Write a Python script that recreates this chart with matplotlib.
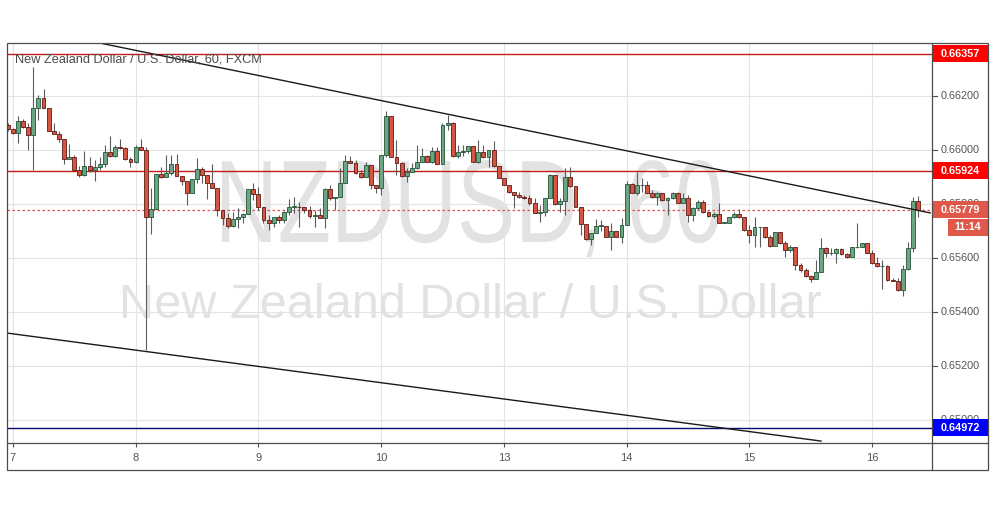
import matplotlib
matplotlib.use("Agg")
import matplotlib.pyplot as plt
from matplotlib.font_manager import FontProperties
from matplotlib.lines import Line2D
from matplotlib.patches import PathPatch, Rectangle
from matplotlib.textpath import TextPath
from matplotlib.transforms import Affine2D
import numpy as np

W, H = 995, 507

# hourly NZDUSD candles, 7th to 16th (open of each bar = previous close)
first_open = 0.66093
close = [
    0.66077, 0.66062, 0.66109, 0.66086, 0.66056, 0.66155, 0.66192, 0.66155, 0.66070, 0.66059,
    0.66040, 0.65966, 0.65973, 0.65926, 0.65907, 0.65942, 0.65926, 0.65936, 0.65947, 0.65992,
    0.65978, 0.66010, 0.66007, 0.65966, 0.65956, 0.66010, 0.66000, 0.65753, 0.65780, 0.65910,
    0.65899, 0.65914, 0.65947, 0.65904, 0.65887, 0.65842, 0.65893, 0.65929, 0.65907, 0.65879,
    0.65858, 0.65778, 0.65747, 0.65720, 0.65744, 0.65751, 0.65762, 0.65854, 0.65836, 0.65788,
    0.65741, 0.65729, 0.65751, 0.65741, 0.65772, 0.65790, 0.65790, 0.65788, 0.65778, 0.65757,
    0.65759, 0.65747, 0.65854, 0.65821, 0.65827, 0.65877, 0.65960, 0.65951, 0.65914, 0.65899,
    0.65944, 0.65870, 0.65858, 0.65982, 0.66126, 0.65973, 0.65951, 0.65904, 0.65920, 0.65934,
    0.65957, 0.65978, 0.65954, 0.65995, 0.65948, 0.66093, 0.66101, 0.65978, 0.65994, 0.65997,
    0.66016, 0.65957, 0.65994, 0.65973, 0.66000, 0.65942, 0.65895, 0.65870, 0.65846, 0.65833,
    0.65827, 0.65821, 0.65803, 0.65768, 0.65772, 0.65821, 0.65907, 0.65800, 0.65811, 0.65899,
    0.65865, 0.65790, 0.65726, 0.65669, 0.65694, 0.65720, 0.65720, 0.65677, 0.65701, 0.65679,
    0.65722, 0.65874, 0.65842, 0.65870, 0.65870, 0.65842, 0.65825, 0.65840, 0.65815, 0.65821,
    0.65840, 0.65805, 0.65821, 0.65759, 0.65784, 0.65809, 0.65772, 0.65756, 0.65762, 0.65731,
    0.65731, 0.65751, 0.65763, 0.65751, 0.65704, 0.65685, 0.65714, 0.65714, 0.65677, 0.65646,
    0.65695, 0.65654, 0.65630, 0.65642, 0.65574, 0.65556, 0.65533, 0.65521, 0.65549, 0.65636,
    0.65617, 0.65620, 0.65632, 0.65615, 0.65603, 0.65641, 0.65642, 0.65654, 0.65620, 0.65580,
    0.65569, 0.65572, 0.65519, 0.65516, 0.65482, 0.65558, 0.65636, 0.65811, 0.65779,
]
high = [
    0.66099, 0.66080, 0.66126, 0.66114, 0.66099, 0.66309, 0.66204, 0.66225, 0.66155, 0.66101,
    0.66072, 0.66040, 0.66022, 0.65982, 0.65941, 0.65997, 0.65975, 0.65963, 0.65975, 0.66019,
    0.66052, 0.66019, 0.66040, 0.66010, 0.65975, 0.66019, 0.66041, 0.66010, 0.65858, 0.65910,
    0.65936, 0.65982, 0.65982, 0.65984, 0.65904, 0.65887, 0.65893, 0.65969, 0.65938, 0.65907,
    0.65948, 0.65858, 0.65778, 0.65767, 0.65772, 0.65784, 0.65766, 0.65854, 0.65877, 0.65862,
    0.65788, 0.65759, 0.65751, 0.65759, 0.65775, 0.65817, 0.65825, 0.65809, 0.65790, 0.65793,
    0.65778, 0.65784, 0.65858, 0.65870, 0.65827, 0.65932, 0.65982, 0.65978, 0.65963, 0.65926,
    0.65957, 0.65944, 0.65870, 0.65982, 0.66143, 0.66126, 0.66037, 0.65957, 0.65932, 0.65951,
    0.66019, 0.66006, 0.65982, 0.66012, 0.66012, 0.66099, 0.66130, 0.66105, 0.66019, 0.66019,
    0.66016, 0.66016, 0.66037, 0.66019, 0.66000, 0.66034, 0.65942, 0.65895, 0.65870, 0.65846,
    0.65846, 0.65833, 0.65833, 0.65821, 0.65796, 0.65821, 0.65911, 0.65907, 0.65821, 0.65932,
    0.65938, 0.65865, 0.65790, 0.65726, 0.65694, 0.65744, 0.65741, 0.65720, 0.65729, 0.65701,
    0.65747, 0.65886, 0.65879, 0.65920, 0.65895, 0.65886, 0.65852, 0.65846, 0.65840, 0.65827,
    0.65843, 0.65843, 0.65840, 0.65833, 0.65790, 0.65815, 0.65815, 0.65775, 0.65772, 0.65805,
    0.65734, 0.65753, 0.65772, 0.65780, 0.65751, 0.65722, 0.65753, 0.65715, 0.65714, 0.65685,
    0.65695, 0.65697, 0.65663, 0.65648, 0.65642, 0.65580, 0.65562, 0.65537, 0.65593, 0.65673,
    0.65642, 0.65636, 0.65636, 0.65636, 0.65620, 0.65642, 0.65729, 0.65657, 0.65657, 0.65630,
    0.65605, 0.65593, 0.65574, 0.65525, 0.65525, 0.65574, 0.65659, 0.65827, 0.65830,
]
low = [
    0.66072, 0.66059, 0.66025, 0.66083, 0.66000, 0.65926, 0.66111, 0.66155, 0.66070, 0.66059,
    0.66031, 0.65948, 0.65966, 0.65926, 0.65899, 0.65904, 0.65920, 0.65886, 0.65926, 0.65938,
    0.65975, 0.65973, 0.66003, 0.65963, 0.65938, 0.65951, 0.66000, 0.65259, 0.65689, 0.65780,
    0.65895, 0.65899, 0.65907, 0.65902, 0.65870, 0.65796, 0.65842, 0.65877, 0.65879, 0.65817,
    0.65858, 0.65756, 0.65722, 0.65710, 0.65716, 0.65710, 0.65729, 0.65762, 0.65815, 0.65778,
    0.65731, 0.65704, 0.65714, 0.65731, 0.65729, 0.65759, 0.65766, 0.65716, 0.65767, 0.65747,
    0.65716, 0.65747, 0.65710, 0.65815, 0.65778, 0.65827, 0.65877, 0.65951, 0.65911, 0.65895,
    0.65899, 0.65854, 0.65840, 0.65833, 0.65975, 0.65973, 0.65906, 0.65901, 0.65883, 0.65920,
    0.65929, 0.65957, 0.65954, 0.65951, 0.65948, 0.65948, 0.66074, 0.65973, 0.65969, 0.65978,
    0.65988, 0.65957, 0.65951, 0.65969, 0.65938, 0.65938, 0.65895, 0.65870, 0.65840, 0.65784,
    0.65822, 0.65819, 0.65796, 0.65766, 0.65734, 0.65756, 0.65821, 0.65796, 0.65772, 0.65759,
    0.65864, 0.65790, 0.65685, 0.65667, 0.65648, 0.65692, 0.65701, 0.65677, 0.65630, 0.65677,
    0.65654, 0.65722, 0.65840, 0.65833, 0.65846, 0.65840, 0.65821, 0.65796, 0.65812, 0.65759,
    0.65817, 0.65803, 0.65803, 0.65734, 0.65738, 0.65778, 0.65768, 0.65751, 0.65747, 0.65729,
    0.65729, 0.65729, 0.65747, 0.65747, 0.65701, 0.65657, 0.65641, 0.65642, 0.65673, 0.65642,
    0.65646, 0.65652, 0.65603, 0.65623, 0.65556, 0.65549, 0.65531, 0.65512, 0.65521, 0.65549,
    0.65605, 0.65611, 0.65580, 0.65611, 0.65599, 0.65603, 0.65636, 0.65642, 0.65619, 0.65578,
    0.65566, 0.65485, 0.65516, 0.65515, 0.65479, 0.65459, 0.65556, 0.65623, 0.65753,
]

day_labels = ["7", "8", "9", "10", "13", "14", "15", "16"]
day_start_bar = [1, 25, 49, 73, 97, 121, 145, 169]
price_ticks = [0.650, 0.652, 0.654, 0.656, 0.658, 0.660, 0.662]

red_levels = [0.66357, 0.65924]
blue_level = 0.64972
last_price = 0.65779
countdown = "11:14"

# drawn trend lines: (bar, price) anchors
upper_trend = [(18.05, 0.66396), (180.35, 0.65767)]
lower_trend = [(-0.14, 0.65322), (159.0, 0.64922)]

title = "New Zealand Dollar / U.S. Dollar, 60, FXCM"
wm_symbol = "NZDUSD, 60"
wm_name = "New Zealand Dollar / U.S. Dollar"

FONT = "Liberation Sans"
UP, UP_EDGE = "#6ba583", "#225437"
DOWN, DOWN_EDGE = "#d75442", "#5b1a13"
FRAME = "#4d4d4d"
TXT = "#555555"
WM = "#e2e2e2"

y_lo, y_hi = 0.6491481, 0.6639630
x_lo, x_hi = -0.14, 180.7


def fx(px):
    return px / W


def fy(py):
    return 1 - py / H


fig = plt.figure(figsize=(W / 100, H / 100), dpi=100)
ax = fig.add_axes([fx(7), fy(443), (932 - 7) / W, 400 / H])
ax.set_xlim(x_lo, x_hi)
ax.set_ylim(y_lo, y_hi)
for s in ax.spines.values():
    s.set_visible(False)

# grid
for b in day_start_bar:
    ax.axvline(b, color="#e3e3e3", lw=0.8, zorder=0)
for p in price_ticks:
    ax.axhline(p, color="#e3e3e3", lw=0.8, zorder=0)

# watermark: symbol line is a tall, narrow face in the original -> stretch a text path
tp = TextPath((0, 0), wm_symbol, size=100, prop=FontProperties(family=FONT))
ext = tp.get_extents()
sx = (720 - 222) / ext.width
sy = 84 / 71.6
wm_tr = Affine2D().scale(sx, sy).translate(222 - ext.x0 * sx, H - 242)
ax.add_patch(PathPatch(tp, transform=wm_tr, facecolor=WM, edgecolor="none", zorder=1))
ax.text(0.4725, fy(318), wm_name, transform=fig.transFigure, ha="center", va="baseline",
        fontsize=35, color=WM, family=FONT, zorder=1)

# levels
for lv in red_levels:
    ax.axhline(lv, color="#c41a1a", lw=1.0, zorder=2)
ax.axhline(blue_level, color="#0a0a6e", lw=1.0, zorder=2)
ax.axhline(last_price, color="#d9534f", lw=0.9, ls=(0, (2, 2)), zorder=2)

# candles
closes = np.array(close)
opens = np.array([first_open] + close[:-1])
highs = np.maximum(np.array(high), np.maximum(opens, closes))
lows = np.minimum(np.array(low), np.minimum(opens, closes))
x = np.arange(len(closes))
up = closes >= opens
body_lo = np.minimum(opens, closes)
body_h = np.maximum(np.abs(closes - opens), 0.00001)

ax.vlines(x, lows, highs, color="#5d5d5d", lw=0.8, zorder=3)
ax.bar(x[up], body_h[up], bottom=body_lo[up], width=0.76, color=UP,
       edgecolor=UP_EDGE, lw=0.6, zorder=4)
ax.bar(x[~up], body_h[~up], bottom=body_lo[~up], width=0.76, color=DOWN,
       edgecolor=DOWN_EDGE, lw=0.6, zorder=4)

# trend lines
for line in (upper_trend, lower_trend):
    xs, ys = zip(*line)
    ax.plot(xs, ys, color="#1a1a1a", lw=1.0, zorder=5)

# time axis
ax.set_xticks(day_start_bar)
ax.set_xticklabels(day_labels, family=FONT, fontsize=8, color=TXT)
ax.tick_params(axis="x", direction="out", length=3, width=0.8, color=FRAME, pad=4)
ax.set_yticks([])

# price axis (tags are drawn over the scale labels, as in the original)
pax = fig.add_axes([fx(932), fy(443), 56 / W, 400 / H])
pax.set_xlim(0, 1)
pax.set_ylim(y_lo, y_hi)
pax.axis("off")
for p in price_ticks:
    pax.plot([0, 5 / 56], [p, p], color=FRAME, lw=0.8, zorder=1)
    pax.text(9 / 56, p, f"{p:.5f}", ha="left", va="center", fontsize=7.8,
             color=TXT, family=FONT, zorder=1)

hh = 8.5 / 27000


def tag(value, text, color, x0=0.0):
    pax.add_patch(Rectangle((x0, value - hh), 1 - x0, 2 * hh, facecolor=color,
                            edgecolor="none", zorder=3, clip_on=False))
    if x0 == 0:
        pax.text(9 / 56, value, text, ha="left", va="center", fontsize=7.8,
                 color="white", fontweight="bold", family=FONT, zorder=4)
    else:
        pax.text((x0 + 1) / 2, value, text, ha="center", va="center", fontsize=7.8,
                 color="white", fontweight="bold", family=FONT, zorder=4)


for lv in red_levels:
    tag(lv, f"{lv:.5f}", "#ff0000")
tag(blue_level, f"{blue_level:.5f}", "#0000ff")
tag(last_price, f"{last_price:.5f}", "#e0584a")
tag(last_price - 2 * hh - 0.5 / 27000, countdown, "#e0584a", x0=16 / 56)

# chart frame
frame_kw = dict(color=FRAME, lw=0.9, transform=fig.transFigure)
fig.add_artist(Rectangle((fx(7), fy(470)), (988 - 7) / W, (470 - 43) / H, fill=False,
                         edgecolor=FRAME, lw=0.9, transform=fig.transFigure))
fig.add_artist(Line2D([fx(7), fx(988)], [fy(443), fy(443)], **frame_kw))
fig.add_artist(Line2D([fx(932), fx(932)], [fy(43), fy(470)], **frame_kw))

fig.text(fx(15), fy(60), title, ha="left", va="center", fontsize=9.2, color="#4a4a4a",
         family=FONT)

fig.savefig("out.png", dpi=100, facecolor="white")
